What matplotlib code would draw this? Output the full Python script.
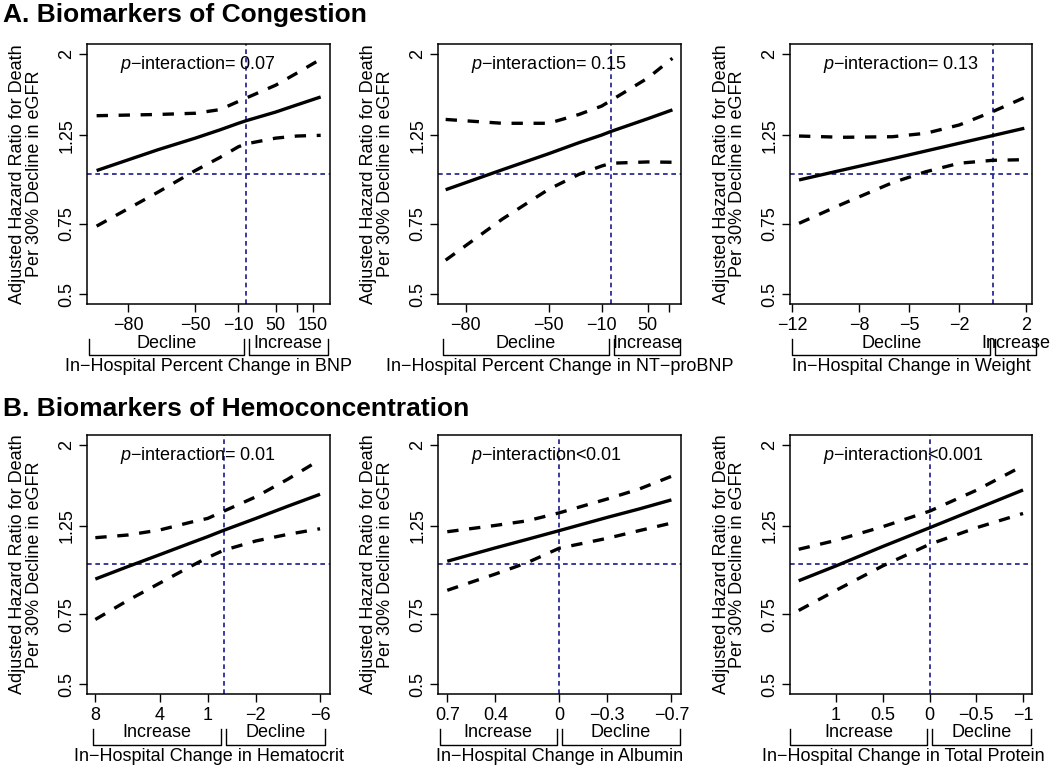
#!/usr/bin/env python3
"""Six-panel figure: hazard ratio for death per 30% eGFR decline vs in-hospital biomarker change."""

import matplotlib

matplotlib.use("Agg")
import matplotlib.pyplot as plt
import numpy as np
from matplotlib.lines import Line2D
from matplotlib.ticker import FixedLocator, FixedFormatter, NullLocator

plt.rcParams.update(
    {
        "font.family": ["Liberation Sans", "DejaVu Sans"],
        "mathtext.fontset": "custom",
        "mathtext.rm": "Liberation Sans",
        "mathtext.it": "Liberation Sans:italic",
        "axes.linewidth": 1.1,
    }
)

MINUS = "\u2212"

# ---- data (x in panel units, y = hazard ratio) ----
BNP_X = [-87, -70, -50, -30, -10, 0, 50, 100, 177]
BNP_HR = [1.02, 1.15, 1.23, 1.29, 1.34, 1.36, 1.43, 1.49, 1.56]
BNP_UPPER = [1.40, 1.41, 1.42, 1.45, 1.52, 1.55, 1.67, 1.79, 1.94]
BNP_LOWER = [0.74, 0.90, 1.02, 1.10, 1.17, 1.19, 1.23, 1.245, 1.25]

NTPRO_X = [-84, -70, -50, -30, -10, 0, 50, 97]
NTPRO_HR = [0.913, 1.025, 1.124, 1.198, 1.252, 1.279, 1.376, 1.448]
NTPRO_UPPER = [1.37, 1.34, 1.34, 1.41, 1.48, 1.53, 1.74, 1.95]
NTPRO_LOWER = [0.608, 0.771, 0.915, 0.998, 1.047, 1.064, 1.072, 1.07]

WEIGHT_X = [-11.6, -9, -6, -4, -2, 0, 1.9]
WEIGHT_HR = [0.966, 1.023, 1.092, 1.142, 1.194, 1.248, 1.302]
WEIGHT_UPPER = [1.245, 1.236, 1.240, 1.265, 1.327, 1.433, 1.554]
WEIGHT_LOWER = [0.752, 0.841, 0.951, 1.013, 1.064, 1.082, 1.086]

HCT_X = [8, 6, 4, 2, 1, 0, -2, -4, -6]
HCT_HR = [0.919, 0.987, 1.058, 1.135, 1.175, 1.219, 1.306, 1.402, 1.502]
HCT_UPPER = [1.168, 1.186, 1.221, 1.279, 1.306, 1.362, 1.48, 1.64, 1.835]
HCT_LOWER = [0.727, 0.811, 0.897, 0.992, 1.041, 1.086, 1.146, 1.191, 1.23]

ALB_X = [0.7, 0.4, 0.2, 0, -0.3, -0.5, -0.7]
ALB_HR = [1.019, 1.101, 1.157, 1.217, 1.314, 1.38, 1.454]
ALB_UPPER = [1.209, 1.254, 1.288, 1.349, 1.462, 1.549, 1.667]
ALB_LOWER = [0.861, 0.946, 1.011, 1.099, 1.164, 1.217, 1.271]

TP_X = [1.4, 1, 0.5, 0, -0.5, -1]
TP_HR = [0.910, 0.992, 1.110, 1.237, 1.380, 1.540]
TP_UPPER = [1.092, 1.150, 1.245, 1.362, 1.537, 1.772]
TP_LOWER = [0.766, 0.861, 0.992, 1.124, 1.237, 1.344]

Y_TICKS = [0.5, 0.75, 1.25, 2]
Y_TICK_LABELS = ["0.5", "0.75", "1.25", "2"]

BLUE = "#1a1a8c"
FIG_W, FIG_H = 1050, 767
FS = 13


def pct_fwd(p):
    return np.log1p(np.asarray(p, dtype=float) / 100.0)


def pct_inv(u):
    return np.expm1(np.asarray(u, dtype=float)) * 100.0


def tick_text(v):
    s = f"{v:g}"
    return s.replace("-", MINUS)


def draw_bracket(ax, x0, x1, label, gap_left, gap_right):
    to_axes = ax.transAxes.inverted()
    px0 = ax.transData.transform((x0, 1.0))[0] + gap_left
    px1 = ax.transData.transform((x1, 1.0))[0] - gap_right
    fx0 = to_axes.transform((px0, 0))[0]
    fx1 = to_axes.transform((px1, 0))[0]
    top, bot = -0.135, -0.197
    ax.add_line(
        Line2D(
            [fx0, fx0, fx1, fx1],
            [top, bot, bot, top],
            transform=ax.transAxes,
            color="black",
            linewidth=1.0,
            clip_on=False,
        )
    )
    ax.text(
        (fx0 + fx1) / 2,
        -0.150,
        label,
        transform=ax.transAxes,
        ha="center",
        va="center",
        fontsize=FS,
    )


def plot_panel(fig, rect_px, spec):
    left, top, width, height = rect_px
    ax = fig.add_axes(
        [left / FIG_W, 1 - (top + height) / FIG_H, width / FIG_W, height / FIG_H]
    )
    if spec["pct"]:
        ax.set_xscale("function", functions=(pct_fwd, pct_inv))
    ax.set_yscale("log")
    ax.set_xlim(*spec["xlim"])
    ax.set_ylim(0.472, 2.118)

    x = spec["x"]
    ax.plot(x, spec["hr"], color="black", linewidth=2.4, solid_capstyle="butt", zorder=3)
    for band in (spec["upper"], spec["lower"]):
        ax.plot(
            x,
            band,
            color="black",
            linewidth=2.4,
            dashes=(3.4, 3.2),
            dash_capstyle="butt",
            zorder=3,
        )
    ax.axhline(1.0, color=BLUE, linewidth=1.2, dashes=(2.8, 2.2), zorder=2)
    ax.axvline(0.0, color=BLUE, linewidth=1.2, dashes=(2.8, 2.2), zorder=2)

    ax.yaxis.set_major_locator(FixedLocator(Y_TICKS))
    ax.yaxis.set_major_formatter(FixedFormatter(Y_TICK_LABELS))
    ax.yaxis.set_minor_locator(NullLocator())
    ax.xaxis.set_major_locator(FixedLocator(spec["ticks"]))
    ax.xaxis.set_major_formatter(FixedFormatter(spec["tick_labels"]))
    ax.xaxis.set_minor_locator(NullLocator())
    ax.tick_params(axis="both", direction="out", length=6, width=1.0, labelsize=FS)
    ax.tick_params(axis="x", pad=3)
    ax.tick_params(axis="y", pad=2.5, labelrotation=90)
    for lab in ax.get_yticklabels():
        lab.set_va("center")

    ax.text(
        -0.251,
        0.5,
        "Adjusted Hazard Ratio for Death\nPer 30% Decline in eGFR",
        transform=ax.transAxes,
        rotation=90,
        ha="center",
        va="center",
        fontsize=FS,
        linespacing=0.95,
    )
    ax.text(
        spec.get("xlabel_x", 0.5),
        -0.240,
        spec["xlabel"],
        transform=ax.transAxes,
        ha="center",
        va="center",
        fontsize=FS,
    )
    ax.text(
        0.136,
        0.921,
        r"$\mathit{p}$" + spec["ptext"],
        transform=ax.transAxes,
        ha="left",
        va="center",
        fontsize=FS,
    )

    (l_lab, l0, l1), (r_lab, r0, r1) = spec["brackets"]
    draw_bracket(ax, l0, l1, l_lab, 0, 2.5)
    draw_bracket(ax, r0, r1, r_lab, 2.5, 0)
    return ax


def main():
    fig = plt.figure(figsize=(FIG_W / 100, FIG_H / 100), dpi=100)

    panels = [
        (
            (87, 44, 243, 260),
            dict(
                pct=True, x=BNP_X, hr=BNP_HR, upper=BNP_UPPER, lower=BNP_LOWER,
                xlim=(-88.6, 214.6),
                ticks=[-80, -50, -10, 50, 100, 150],
                tick_labels=[f"{MINUS}80", f"{MINUS}50", f"{MINUS}10", "50", "", "150"],
                xlabel=f"In{MINUS}Hospital Percent Change in BNP",
                ptext=f"{MINUS}interaction= 0.07",
                brackets=(("Decline", -88.3, 0), ("Increase", 0, 206)),
            ),
        ),
        (
            (438, 44, 243, 260),
            dict(
                pct=True, x=NTPRO_X, hr=NTPRO_HR, upper=NTPRO_UPPER, lower=NTPRO_LOWER,
                xlim=(-85.3, 116.6),
                ticks=[-80, -50, -10, 50, 90],
                tick_labels=[f"{MINUS}80", f"{MINUS}50", f"{MINUS}10", "50", ""],
                xlabel=f"In{MINUS}Hospital Percent Change in NT{MINUS}proBNP",
                ptext=f"{MINUS}interaction= 0.15",
                brackets=(("Decline", -84.4, 0), ("Increase", 0, 114)),
            ),
        ),
        (
            (790, 44, 242, 260),
            dict(
                pct=False, x=WEIGHT_X, hr=WEIGHT_HR, upper=WEIGHT_UPPER, lower=WEIGHT_LOWER,
                xlim=(-12.14, 2.36),
                ticks=[-12, -8, -5, -2, 2],
                tick_labels=[tick_text(v) for v in [-12, -8, -5, -2, 2]],
                xlabel=f"In{MINUS}Hospital Change in Weight",
                ptext=f"{MINUS}interaction= 0.13",
                brackets=(("Decline", -12.0, 0), ("Increase", 0, 2.62)),
            ),
        ),
        (
            (87, 435, 243, 259),
            dict(
                pct=False, x=HCT_X, hr=HCT_HR, upper=HCT_UPPER, lower=HCT_LOWER,
                xlim=(8.52, -6.62),
                ticks=[8, 4, 1, -2, -6],
                tick_labels=[tick_text(v) for v in [8, 4, 1, -2, -6]],
                xlabel=f"In{MINUS}Hospital Change in Hematocrit",
                ptext=f"{MINUS}interaction= 0.01",
                brackets=(("Increase", 8.17, 0), ("Decline", 0, -6.31)),
            ),
        ),
        (
            (438, 435, 243, 259),
            dict(
                pct=False, x=ALB_X, hr=ALB_HR, upper=ALB_UPPER, lower=ALB_LOWER,
                xlim=(0.758, -0.760),
                ticks=[0.7, 0.4, 0, -0.3, -0.7],
                tick_labels=[tick_text(v) for v in [0.7, 0.4, 0, -0.3, -0.7]],
                xlabel=f"In{MINUS}Hospital Change in Albumin",
                ptext=f"{MINUS}interaction<0.01",
                brackets=(("Increase", 0.748, 0), ("Decline", 0, -0.756)),
            ),
        ),
        (
            (790, 435, 242, 259),
            dict(
                pct=False, x=TP_X, hr=TP_HR, upper=TP_UPPER, lower=TP_LOWER,
                xlim=(1.493, -1.096),
                ticks=[1, 0.5, 0, -0.5, -1],
                tick_labels=[tick_text(v) for v in [1, 0.5, 0, -0.5, -1]],
                xlabel=f"In{MINUS}Hospital Change in Total Protein",
                xlabel_x=0.47,
                ptext=f"{MINUS}interaction<0.001",
                brackets=(("Increase", 1.49, 0), ("Decline", 0, -1.09)),
            ),
        ),
    ]
    for rect, spec in panels:
        plot_panel(fig, rect, spec)

    fig.text(3 / FIG_W, 1 - 22 / FIG_H, "A. Biomarkers of Congestion",
             fontsize=19, fontweight="bold", ha="left", va="baseline")
    fig.text(3 / FIG_W, 1 - 416 / FIG_H, "B. Biomarkers of Hemoconcentration",
             fontsize=19, fontweight="bold", ha="left", va="baseline")

    fig.savefig("out.png", dpi=100, facecolor="white")
    plt.close(fig)


if __name__ == "__main__":
    main()
